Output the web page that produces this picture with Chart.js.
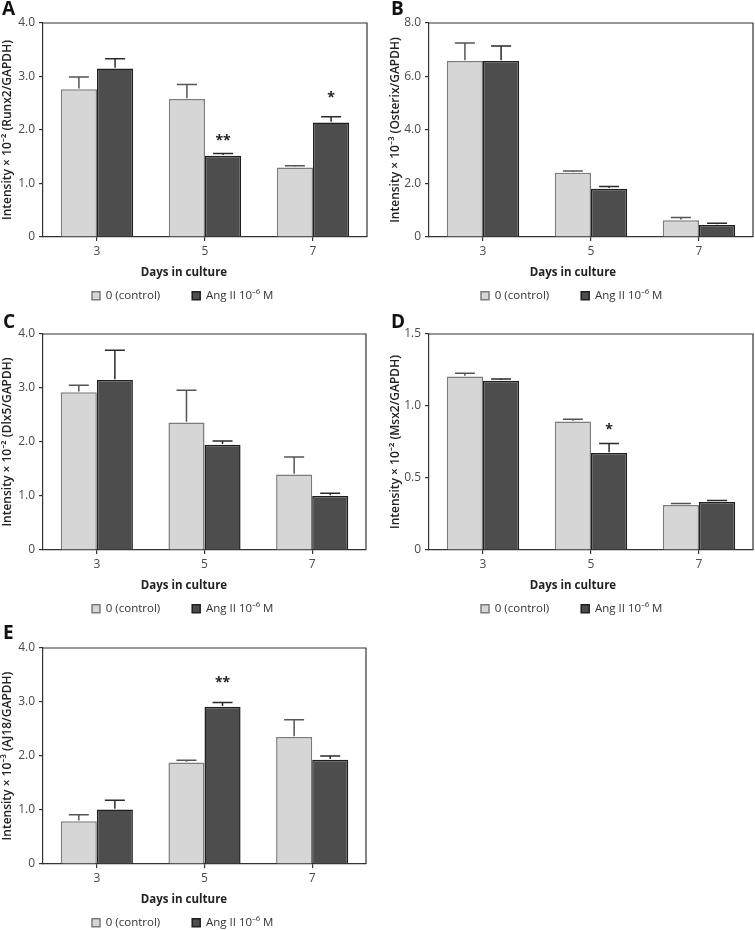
<!DOCTYPE html>
<html><head><meta charset="utf-8">
<script src="https://cdn.jsdelivr.net/npm/chart.js@4.4.0/dist/chart.umd.min.js"></script>
<style>
html,body{margin:0;padding:0;background:#fff;width:755px;height:930px;overflow:hidden;}
.panel{position:absolute;}
canvas{display:block;}
</style></head><body>
<div class="panel" style="left:0;top:0"><canvas id="cA" width="377" height="310"></canvas></div>
<div class="panel" style="left:378px;top:0"><canvas id="cB" width="377" height="310"></canvas></div>
<div class="panel" style="left:0;top:310px"><canvas id="cC" width="377" height="312"></canvas></div>
<div class="panel" style="left:378px;top:310px"><canvas id="cD" width="377" height="312"></canvas></div>
<div class="panel" style="left:0;top:622px"><canvas id="cE" width="377" height="308"></canvas></div>
<script>
// ---------- data ----------
const days = ['3', '5', '7'];
const seriesNames = ['0 (control)', 'Ang II 10\u207B\u2076 M'];
const xTitle = 'Days in culture';

const runx2Control = [2.76, 2.58, 1.30];
const runx2ControlErr = [0.23, 0.27, 0.03];
const runx2Ang = [3.15, 1.52, 2.14];
const runx2AngErr = [0.18, 0.04, 0.11];
const runx2Stars = ['', '**', '*'];
const runx2StarLevel = [null, 1.87, 2.67];

const osterixControl = [6.58, 2.40, 0.63];
const osterixControlErr = [0.67, 0.07, 0.10];
const osterixAng = [6.58, 1.80, 0.45];
const osterixAngErr = [0.56, 0.09, 0.06];

const dlx5Control = [2.92, 2.36, 1.40];
const dlx5ControlErr = [0.13, 0.60, 0.32];
const dlx5Ang = [3.15, 1.95, 1.00];
const dlx5AngErr = [0.55, 0.07, 0.05];

const msx2Control = [1.204, 0.892, 0.312];
const msx2ControlErr = [0.023, 0.016, 0.011];
const msx2Ang = [1.176, 0.673, 0.333];
const msx2AngErr = [0.012, 0.066, 0.011];
const msx2Stars = ['', '*', ''];
const msx2StarLevel = [null, 0.864, null];

const aj18Control = [0.79, 1.88, 2.35];
const aj18ControlErr = [0.12, 0.04, 0.32];
const aj18Ang = [1.01, 2.91, 1.93];
const aj18AngErr = [0.17, 0.08, 0.07];
const aj18Stars = ['', '**', ''];
const aj18StarLevel = [null, 3.43, null];

// ---------- drawing ----------
const FONT = "'Open Sans', 'Noto Sans', sans-serif";
const LEG_PAD = 32;

const extrasPlugin = {
  id: 'extras',
  afterLayout(chart) {
    const ex = chart.options.plugins.extras;
    const lg = chart.legend;
    if (!lg) return;
    const h = LEG_PAD + 24;
    lg.left = ex.legendX - LEG_PAD;
    lg.width = 360;
    lg.right = lg.left + lg.width;
    lg.top = ex.legendY - LEG_PAD - 6;
    lg.height = h;
    lg.bottom = lg.top + h;
  },
  afterDatasetsDraw(chart) {
    const ex = chart.options.plugins.extras;
    const ctx = chart.ctx;
    const y = chart.scales.y;
    const ca = chart.chartArea;
    ctx.save();
    // error bars
    chart.data.datasets.forEach((ds, di) => {
      const meta = chart.getDatasetMeta(di);
      meta.data.forEach((bar, i) => {
        const v = ds.data[i];
        const e = ex.errs[di][i];
        const yb = y.getPixelForValue(v);
        const yt = y.getPixelForValue(v + e);
        ctx.strokeStyle = ex.errColors[di];
        ctx.lineWidth = 1.5;
        ctx.beginPath();
        ctx.moveTo(bar.x, yb - 0.75);
        ctx.lineTo(bar.x, yt);
        ctx.moveTo(bar.x - 10, yt);
        ctx.lineTo(bar.x + 10, yt);
        ctx.stroke();
      });
    });
    // stars
    if (ex.stars) {
      const meta = chart.getDatasetMeta(1);
      ctx.fillStyle = '#222';
      ctx.font = 'bold 14px ' + FONT;
      ctx.textAlign = 'center';
      ctx.textBaseline = 'alphabetic';
      ex.stars.forEach((s, i) => {
        if (!s) return;
        const py = y.getPixelForValue(ex.starLevel[i]);
        ctx.fillText(s, meta.data[i].x, py + 8);
      });
    }
    // top / right frame
    ctx.strokeStyle = '#333';
    ctx.lineWidth = 1.2;
    ctx.beginPath();
    ctx.moveTo(ca.left, ca.top);
    ctx.lineTo(ca.right, ca.top);
    ctx.lineTo(ca.right, ca.bottom);
    ctx.stroke();
    // x axis title
    ctx.fillStyle = '#222';
    ctx.font = 'bold 11.5px ' + FONT;
    ctx.textAlign = 'center';
    ctx.textBaseline = 'middle';
    ctx.fillText(xTitle, ex.titleX, ex.titleY);
    // panel letter
    ctx.fillStyle = '#111';
    ctx.font = 'bold 19px ' + FONT;
    ctx.textAlign = 'left';
    ctx.textBaseline = 'alphabetic';
    ctx.fillText(ex.letter, ex.letterX, ex.letterY);
    ctx.restore();
  }
};

function makePanel(id, o) {
  const canvas = document.getElementById(id);
  const H = canvas.height;
  const LEG_H = 20;
  return new Chart(canvas.getContext('2d'), {
    type: 'bar',
    data: {
      labels: days,
      datasets: [
        { label: seriesNames[0], data: o.ctrl, backgroundColor: '#d6d6d6', borderColor: '#7c7c7c',
          borderWidth: 1.5, categoryPercentage: 0.67, barPercentage: 1.0 },
        { label: seriesNames[1], data: o.ang, backgroundColor: '#4d4d4d', borderColor: '#1f1f1f',
          borderWidth: 1.5, categoryPercentage: 0.67, barPercentage: 1.0 }
      ]
    },
    options: {
      responsive: false,
      animation: false,
      devicePixelRatio: 1,
      layout: { padding: { left: o.padL, right: o.padR, top: o.top, bottom: 0 } },
      plugins: {
        legend: {
          position: 'bottom',
          align: 'start',
          maxHeight: LEG_H,
          labels: { boxWidth: 8, boxHeight: 8, padding: LEG_PAD, color: '#333',
                    font: { family: FONT, size: 11.5 } }
        },
        tooltip: { enabled: false },
        extras: { errs: [o.ctrlErr, o.angErr], errColors: ['#555', '#2a2a2a'],
                  stars: o.stars, starLevel: o.starLevel,
                  letter: o.letter, letterX: o.letterX, letterY: o.letterY,
                  titleX: o.centerX, titleY: o.bottom + 36,
                  legendX: o.legendX, legendY: o.bottom + 59 }
      },
      scales: {
        x: {
          grid: { display: true, drawOnChartArea: false, drawTicks: true, tickLength: 4,
                  offset: false, color: '#333', lineWidth: 1.2 },
          border: { display: true, color: '#333', width: 1.2 },
          ticks: { color: '#4a4a4a', padding: 3, maxRotation: 0, minRotation: 0, autoSkip: false,
                   font: { family: FONT, size: 12 } },
          afterFit(s) { s.height = H - LEG_H - o.bottom; }
        },
        y: {
          min: 0, max: o.max,
          grid: { display: true, drawOnChartArea: false, drawTicks: true, tickLength: 4,
                  color: '#333', lineWidth: 1.2 },
          border: { display: true, color: '#333', width: 1.2 },
          ticks: { stepSize: o.step, color: '#4a4a4a', padding: 4, font: { family: FONT, size: 12 },
                   callback: v => v === 0 ? '0' : Number(v).toFixed(1) },
          title: { display: true, text: o.yTitle, color: '#222', padding: { top: 0, bottom: 0 },
                   font: { family: FONT, size: 12, weight: '600' } },
          afterFit(s) { s.width = o.left - o.padL; }
        }
      }
    },
    plugins: [extrasPlugin]
  });
}

makePanel('cA', { ctrl: runx2Control, ctrlErr: runx2ControlErr, ang: runx2Ang, angErr: runx2AngErr,
  stars: runx2Stars, starLevel: runx2StarLevel, max: 4, step: 1,
  yTitle: 'Intensity \u00D7 10\u207B\u00B2 (Runx2/GAPDH)', letter: 'A', letterX: 2, letterY: 15,
  padL: 0, padR: 10, left: 43, top: 23, bottom: 237, centerX: 184, legendX: 92 });
makePanel('cB', { ctrl: osterixControl, ctrlErr: osterixControlErr, ang: osterixAng, angErr: osterixAngErr,
  stars: null, starLevel: null, max: 8, step: 2,
  yTitle: 'Intensity \u00D7 10\u207B\u00B3 (Osterix/GAPDH)', letter: 'B', letterX: 13, letterY: 15,
  padL: 10, padR: 2, left: 51, top: 23, bottom: 237, centerX: 195, legendX: 103 });
makePanel('cC', { ctrl: dlx5Control, ctrlErr: dlx5ControlErr, ang: dlx5Ang, angErr: dlx5AngErr,
  stars: null, starLevel: null, max: 4, step: 1,
  yTitle: 'Intensity \u00D7 10\u207B\u00B2 (Dlx5/GAPDH)', letter: 'C', letterX: 3, letterY: 18,
  padL: 0, padR: 11, left: 43, top: 24, bottom: 240, centerX: 184, legendX: 92 });
makePanel('cD', { ctrl: msx2Control, ctrlErr: msx2ControlErr, ang: msx2Ang, angErr: msx2AngErr,
  stars: msx2Stars, starLevel: msx2StarLevel, max: 1.5, step: 0.5,
  yTitle: 'Intensity \u00D7 10\u207B\u00B2 (Msx2/GAPDH)', letter: 'D', letterX: 13, letterY: 18,
  padL: 10, padR: 2, left: 51, top: 24, bottom: 240, centerX: 195, legendX: 103 });
makePanel('cE', { ctrl: aj18Control, ctrlErr: aj18ControlErr, ang: aj18Ang, angErr: aj18AngErr,
  stars: aj18Stars, starLevel: aj18StarLevel, max: 4, step: 1,
  yTitle: 'Intensity \u00D7 10\u207B\u00B3 (AJ18/GAPDH)', letter: 'E', letterX: 3, letterY: 17,
  padL: 0, padR: 11, left: 43, top: 26, bottom: 242, centerX: 184, legendX: 92 });
</script>
</body></html>
